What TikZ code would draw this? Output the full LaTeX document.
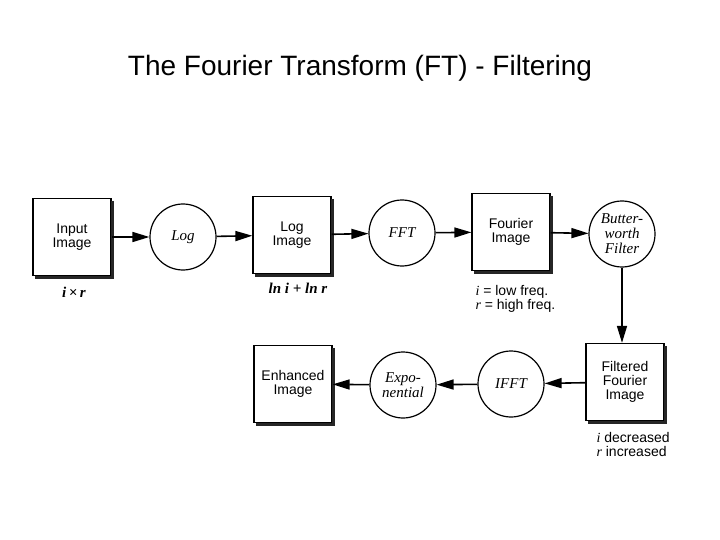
\documentclass[tikz,border=0pt]{standalone}
\usepackage{fontspec}
\setmainfont{Liberation Sans}
\newfontfamily\serifit{Liberation Serif}
\usetikzlibrary{arrows.meta}
\begin{document}
\begin{tikzpicture}[x=1pt,y=-1pt,
  box/.style={draw,line width=1.3pt,minimum width=78pt,minimum height=77pt,fill=white,align=center,font=\fontsize{14}{14}\selectfont},
  shadow/.style={line width=3pt,black!85},
  circ/.style={draw,line width=1.2pt,circle,minimum size=66pt,inner sep=0pt,align=center,font=\serifit\itshape\fontsize{15}{15}\selectfont},
  arr/.style={line width=1.6pt,-{Triangle[length=17pt,width=10pt]}},
  lab/.style={font=\fontsize{14}{14}\selectfont,align=left}]
\useasboundingbox (0,0) rectangle (720,540);
\node[font=\fontsize{28}{28}\selectfont] (title) at (360,68) {The Fourier Transform (FT) - Filtering};
\node[box] (in) at (72,237) {Input\\Image};
\node[circ] (log) at (183,237) {Log};
\node[box] (li) at (292,235) {Log\\Image};
\node[circ] (fft) at (402,233) {FFT};
\node[box] (fi) at (511,232) {Fourier\\Image};
\node[circ] (bw) at (622,234) {Butter-\\worth\\Filter};
\node[box] (ff) at (625,382) {Filtered\\Fourier\\Image};
\node[circ] (ifft) at (511,384) {IFFT};
\node[circ] (exp) at (403,385) {Expo-\\nential};
\node[box] (en) at (293,384) {Enhanced\\Image};
\foreach \n in {in,li,fi,ff,en}{
  \draw[shadow] ([xshift=1.3pt,yshift=-3pt]\n.north east) -- ([xshift=1.3pt,yshift=-1.3pt]\n.south east) -- ([xshift=3pt,yshift=-1.3pt]\n.south west);
}
\draw[arr] (in) -- (log);
\draw[arr] (log) -- (li);
\draw[arr] (li) -- (fft);
\draw[arr] (fft) -- (fi);
\draw[arr] (fi) -- (bw);
\draw[arr] (bw.south) -- (bw.south |- ff.north);
\draw[arr] (ff) -- (ifft);
\draw[arr] (ifft) -- (exp);
\draw[arr] (exp) -- (en);
\node[font=\serifit\itshape\bfseries\fontsize{15}{15}\selectfont] (l1) at (74,292) {i\,×\,r};
\node[font=\serifit\itshape\bfseries\fontsize{15}{15}\selectfont] (l2) at (298,288) {ln i + ln r};
\node[lab,anchor=north west] (l3) at (472,282) {{\serifit\itshape i} = low freq.\\{\serifit\itshape r} = high freq.};
\node[lab,anchor=north west] (l4) at (593,429) {{\serifit\itshape i} decreased\\{\serifit\itshape r} increased};
\end{tikzpicture}
\end{document}
